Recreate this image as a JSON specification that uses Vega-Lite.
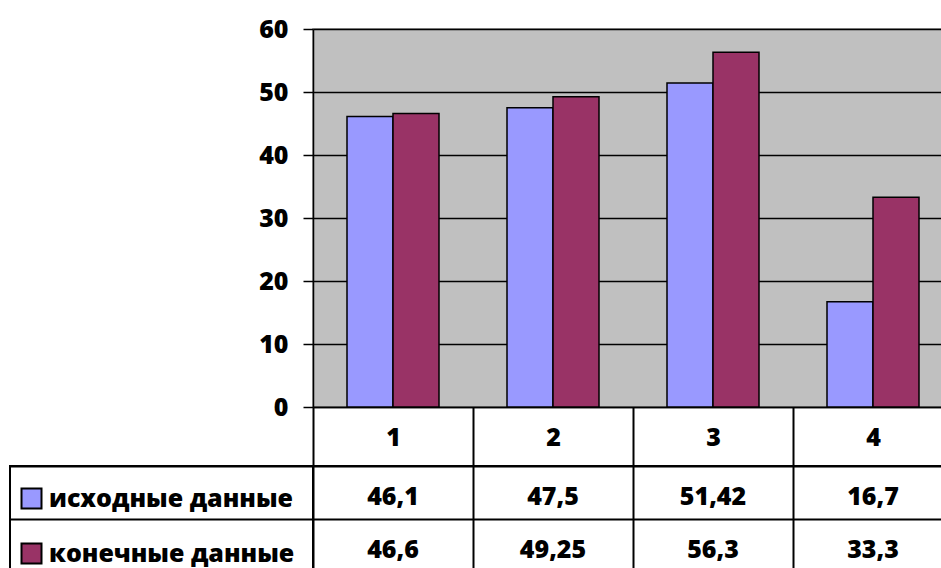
{
  "$schema": "https://vega.github.io/schema/vega-lite/v6.json",
  "padding": {"left": 9, "top": 16, "right": 0, "bottom": 0},
  "background": "white",
  "datasets": {
    "main": [
      {"cat": "1", "series": "исходные данные", "value": 46.1},
      {"cat": "1", "series": "конечные данные", "value": 46.6},
      {"cat": "2", "series": "исходные данные", "value": 47.5},
      {"cat": "2", "series": "конечные данные", "value": 49.25},
      {"cat": "3", "series": "исходные данные", "value": 51.42},
      {"cat": "3", "series": "конечные данные", "value": 56.3},
      {"cat": "4", "series": "исходные данные", "value": 16.7},
      {"cat": "4", "series": "конечные данные", "value": 33.3}
    ]
  },
  "columns": 2,
  "spacing": {"row": 59, "column": 0},
  "bounds": "flush",
  "align": "each",
  "resolve": {
    "scale": {"color": "shared", "x": "independent", "y": "independent"},
    "legend": {"color": "independent"}
  },
  "concat": [
    {
      "width": 303,
      "height": 378,
      "data": {"values": [{}]},
      "mark": {"type": "text", "text": ""},
      "encoding": {}
    },
    {
      "width": 640,
      "height": 378,
      "data": {"name": "main"},
      "view": {"fill": "#C0C0C0", "stroke": "#808080", "strokeWidth": 1.5},
      "mark": {"type": "bar", "stroke": "black", "strokeWidth": 1.5},
      "encoding": {
        "x": {
          "field": "cat", "type": "nominal", "sort": null,
          "scale": {"paddingInner": 0, "paddingOuter": 0},
          "axis": {
            "title": null, "domain": true, "domainColor": "black", "domainWidth": 1.5,
            "ticks": true, "tickBand": "extent", "tickSize": 59, "tickColor": "black", "tickWidth": 2,
            "labelPadding": -29, "labelBaseline": "middle", "labelFontSize": 25, "labelFontWeight": 800,
            "labelColor": "black", "labelAngle": 0, "grid": false
          }
        },
        "xOffset": {
          "field": "series", "type": "nominal", "sort": null,
          "scale": {"paddingInner": 0, "paddingOuter": 0.7391}
        },
        "y": {
          "field": "value", "type": "quantitative",
          "scale": {"domain": [0, 60], "nice": false},
          "axis": {
            "title": null, "values": [0, 10, 20, 30, 40, 50, 60],
            "domainColor": "black", "domainWidth": 1.5,
            "tickColor": "black", "tickSize": 10, "tickWidth": 1.5,
            "labelPadding": 15, "labelFontSize": 25, "labelFontWeight": 800, "labelColor": "black",
            "grid": true, "gridColor": "black", "gridWidth": 1.5, "gridOpacity": 1
          }
        },
        "color": {
          "field": "series", "type": "nominal", "sort": null,
          "scale": {"domain": ["исходные данные", "конечные данные"], "range": ["#9999FF", "#993366"]},
          "legend": null
        }
      }
    },
    {
      "width": 303,
      "height": 106,
      "data": {"name": "main"},
      "view": {"stroke": "black", "strokeWidth": 2},
      "mark": {"type": "text", "text": ""},
      "encoding": {
        "y": {
          "field": "series", "type": "nominal", "sort": null,
          "scale": {"type": "band", "paddingInner": 0, "paddingOuter": 0},
          "axis": {
            "title": null, "labels": false, "ticks": false, "domain": false,
            "grid": true, "tickBand": "extent", "gridColor": "black", "gridWidth": 2, "gridOpacity": 1
          }
        },
        "color": {
          "field": "series", "type": "nominal", "sort": null,
          "legend": {
            "title": "\u00a0", "titleFontSize": 10, "titlePadding": 1,
            "orient": "top-left", "offset": 9, "padding": 0,
            "symbolType": "square", "symbolSize": 400,
            "symbolStrokeColor": "black", "symbolStrokeWidth": 2,
            "labelFontSize": 25, "labelFontWeight": 800, "labelColor": "black",
            "labelOffset": 5, "labelLimit": 400, "rowPadding": 26,
            "encode": {"symbols": {"update": {"stroke": {"value": "black"}, "strokeWidth": {"value": 2}, "opacity": {"value": 1}}}}
          }
        }
      }
    },
    {
      "width": 640,
      "height": 106,
      "data": {"name": "main"},
      "view": {"stroke": "black", "strokeWidth": 2},
      "mark": {"type": "text", "fontSize": 25, "fontWeight": 800, "color": "black", "baseline": "middle", "dy": 4},
      "encoding": {
        "x": {
          "field": "cat", "type": "nominal", "sort": null,
          "scale": {"type": "band", "paddingInner": 0, "paddingOuter": 0},
          "axis": {
            "title": null, "labels": false, "ticks": false, "domain": false,
            "grid": true, "tickBand": "extent", "gridColor": "black", "gridWidth": 2, "gridOpacity": 1
          }
        },
        "y": {
          "field": "series", "type": "nominal", "sort": null,
          "scale": {"type": "band", "paddingInner": 0, "paddingOuter": 0},
          "axis": {
            "title": null, "labels": false, "ticks": false, "domain": false,
            "grid": true, "tickBand": "extent", "gridColor": "black", "gridWidth": 2, "gridOpacity": 1
          }
        },
        "text": {"field": "value", "type": "quantitative", "format": "~r"}
      }
    }
  ],
  "config": {
    "font": "Open Sans",
    "locale": {"number": {"decimal": ",", "thousands": " ", "grouping": [3], "currency": ["", ""]}},
    "view": {"stroke": null},
    "axis": {"labelFont": "Open Sans"},
    "legend": {"labelFont": "Open Sans", "titleFont": "Open Sans"},
    "text": {"font": "Open Sans"}
  }
}
